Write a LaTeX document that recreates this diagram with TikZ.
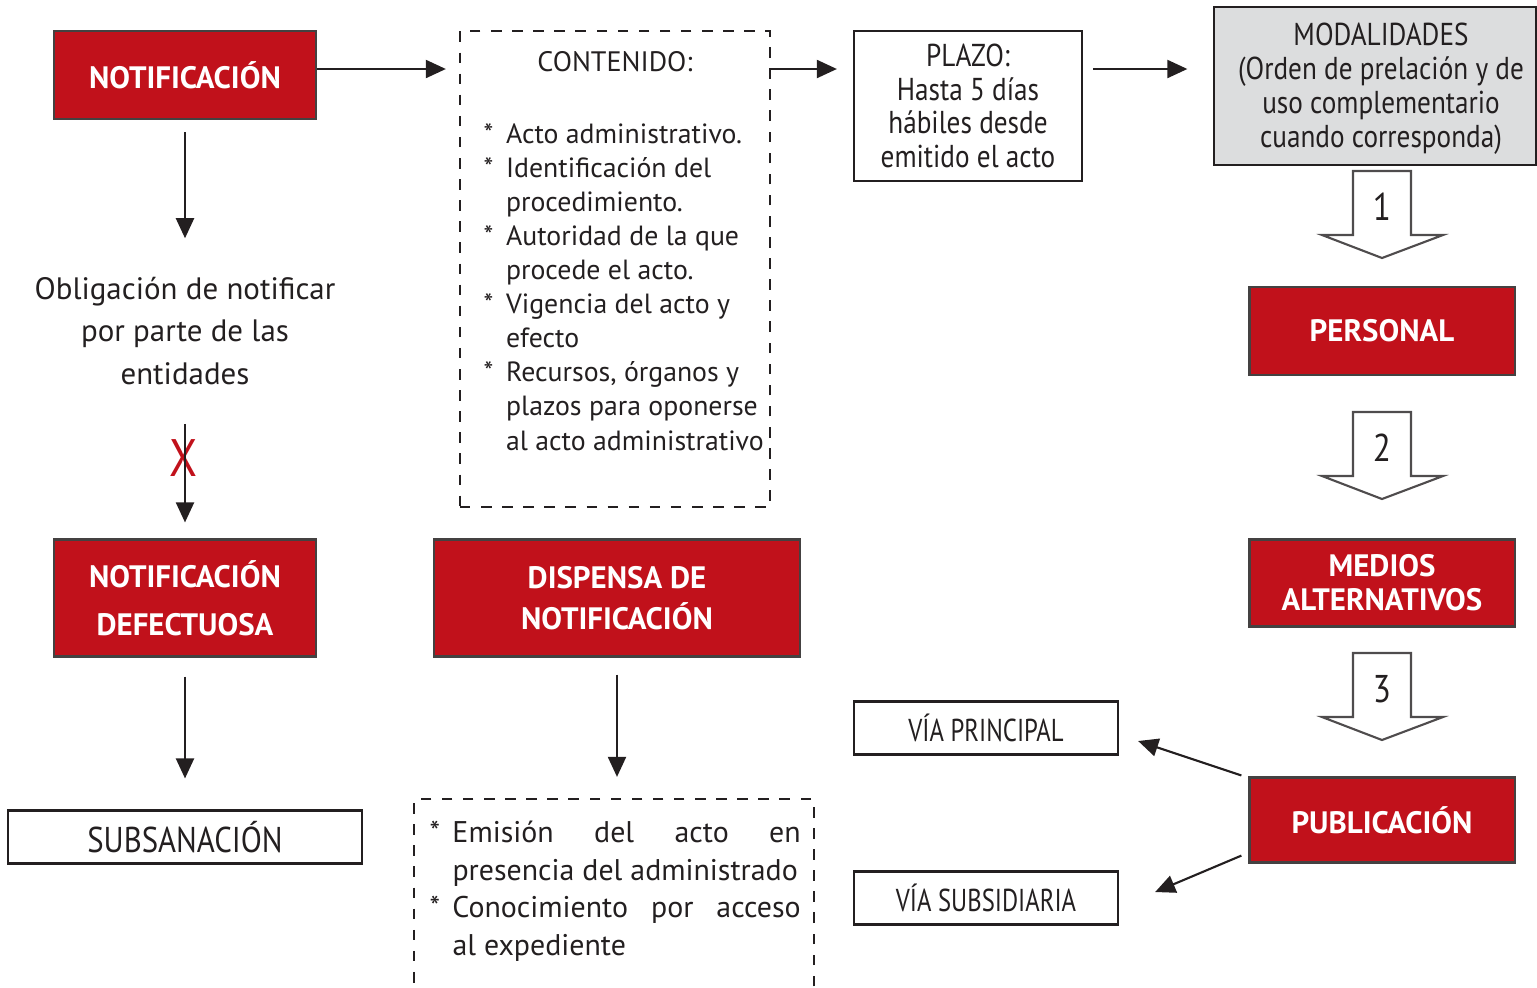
\documentclass[tikz,border=0pt]{standalone}
\usepackage{fontspec}
\setmainfont{PT Sans}
\newfontfamily\narrowfont[FakeStretch=0.86]{PT Sans}
\newfontfamily\condfont[FakeStretch=0.78]{PT Sans}
\usetikzlibrary{arrows.meta,calc}
\definecolor{notired}{RGB}{193,17,27}
\definecolor{modalgray}{RGB}{220,221,222}
\definecolor{ink}{RGB}{35,31,32}
\begin{document}
\begin{tikzpicture}[x=0.01cm, y=-0.01cm,
    redbox/.style={rectangle, draw=ink!85, line width=0.6pt, fill=notired, text=white, align=center, inner sep=0pt, font=\bfseries\fontsize{8.8}{9.7}\selectfont},
    plainbox/.style={rectangle, draw=ink, line width=0.6pt, align=center, text=ink, inner sep=0pt},
    dashbox/.style={rectangle, draw=ink, dashed, line width=0.6pt, inner sep=0pt},
    txt/.style={text=ink, inner sep=0pt},
    arrow/.style={-{Triangle[length=0.2cm,width=0.18cm]}, line width=0.6pt, draw=ink},
    hollow/.style={draw=ink!80, line width=0.6pt, fill=white}
]
\useasboundingbox (0,0) rectangle (1537,987);
\coordinate (row) at (0,69);
\node[redbox, minimum width=2.62cm, minimum height=0.88cm] (notif) at (185,75) {NOTIFICACIÓN};
\node[dashbox, minimum width=3.10cm, minimum height=4.76cm] (contenido) at (615,269) {};
\node[txt, font=\fontsize{8}{9.7}\selectfont] (contitle) at (615,62) {CONTENIDO:};
\node[txt, anchor=base west, font=\fontsize{7.9}{9.7}\selectfont] (conlist) at (483,143) {\begin{tabular}[t]{@{}l@{\hspace{3.6pt}}l@{}}
{*} & Acto administrativo.\\
{*} & Identificación del\\
    & procedimiento.\\
{*} & Autoridad de la que\\
    & procede el acto.\\
{*} & Vigencia del acto y\\
    & efecto\\
{*} & Recursos, órganos y\\
    & plazos para oponerse\\
    & al acto administrativo
\end{tabular}};
\node[plainbox, minimum width=2.28cm, minimum height=1.50cm, font=\narrowfont\fontsize{9}{9.6}\selectfont] (plazo) at (968,106) {PLAZO:\\Hasta 5 días\\hábiles desde\\emitido el acto};
\node[plainbox, fill=modalgray, minimum width=3.21cm, minimum height=1.58cm] (modal) at (1375,86) {};
\node[txt, align=center, font=\narrowfont\fontsize{9}{9.7}\selectfont] (modaltext) at (1381,89) {MODALIDADES\\(Orden de prelación y de\\uso complementario\\cuando corresponda)};
\node[txt, align=center, minimum height=1.84cm, font=\fontsize{8.8}{12.2}\selectfont] (oblig) at (185,331) {Obligación de notificar\\por parte de las\\entidades};
\node[txt, text=notired, font=\narrowfont\fontsize{15}{15}\selectfont] (cross) at (184,458) {X};
\node[redbox, minimum width=2.62cm, minimum height=1.17cm] (defect) at (185,598) {NOTIFICACIÓN\\[4pt]DEFECTUOSA};
\node[plainbox, minimum width=3.54cm, minimum height=0.53cm, font=\narrowfont\fontsize{10.2}{11}\selectfont] (subsan) at (185,837) {SUBSANACIÓN};
\node[redbox, minimum width=3.66cm, minimum height=1.17cm] (dispensa) at (617,598) {DISPENSA DE\\[2pt]NOTIFICACIÓN};
\node[dashbox, minimum width=3.99cm, minimum height=2.10cm] (dispbox) at (614,904) {};
\node[txt, anchor=base west, font=\fontsize{8.5}{10.8}\selectfont] (displist) at (429,842) {\hyphenpenalty=10000\begin{tabular}[t]{@{}l@{\hspace{3.5pt}}p{3.48cm}@{}}
{*} & Emisión del acto en\linebreak presencia del administrado\\
{*} & Conocimiento por acceso\linebreak al expediente
\end{tabular}};
\node[redbox, minimum width=2.65cm, minimum height=0.88cm] (personal) at (1382,331) {PERSONAL};
\node[redbox, minimum width=2.65cm, minimum height=0.87cm] (medios) at (1382,583) {MEDIOS\\ALTERNATIVOS};
\node[redbox, minimum width=2.65cm, minimum height=0.85cm] (pub) at (1382,820) {PUBLICACIÓN};
\node[plainbox, minimum width=2.64cm, minimum height=0.53cm, font=\condfont\fontsize{9}{10}\selectfont] (vprin) at (986,728) {VÍA PRINCIPAL};
\node[plainbox, minimum width=2.64cm, minimum height=0.53cm, font=\condfont\fontsize{9}{10}\selectfont] (vsub) at (986,898) {VÍA SUBSIDIARIA};
\foreach \n/\yt in {1/171, 2/412, 3/653} {
  \draw[hollow] (1353,\yt) -- (1411,\yt) -- (1411,\yt+64) -- (1443,\yt+64) -- (1382,\yt+87) -- (1322,\yt+64) -- (1353,\yt+64) -- cycle;
  \node[txt, font=\narrowfont\fontsize{11}{11}\selectfont] (num\n) at (1382,\yt+36) {\n};
}
\draw[arrow, shorten >=0.13cm] (notif.east |- row) -- (contenido.west |- row);
\draw[arrow, shorten >=0.16cm] (contenido.east |- row) -- (plazo.west |- row);
\draw[arrow, shorten <=0.10cm, shorten >=0.26cm] (plazo.east |- row) -- (modal.west |- row);
\draw[arrow, shorten <=0.12cm] (notif.south) -- (oblig.north);
\draw[arrow, shorten >=0.16cm] (oblig.south) -- (defect.north);
\draw[arrow, shorten <=0.19cm, shorten >=0.31cm] (defect.south) -- (subsan.north);
\draw[arrow, shorten <=0.17cm, shorten >=0.21cm] (dispensa.south) -- (dispensa.south |- dispbox.north);
\draw[arrow] ($(pub.north west)+(-7,-1)$) -- ($(vprin.east)+(19,13)$);
\draw[arrow] ($(pub.south west)+(-7,-8)$) -- ($(vsub.east)+(36,-6)$);
\end{tikzpicture}
\end{document}
